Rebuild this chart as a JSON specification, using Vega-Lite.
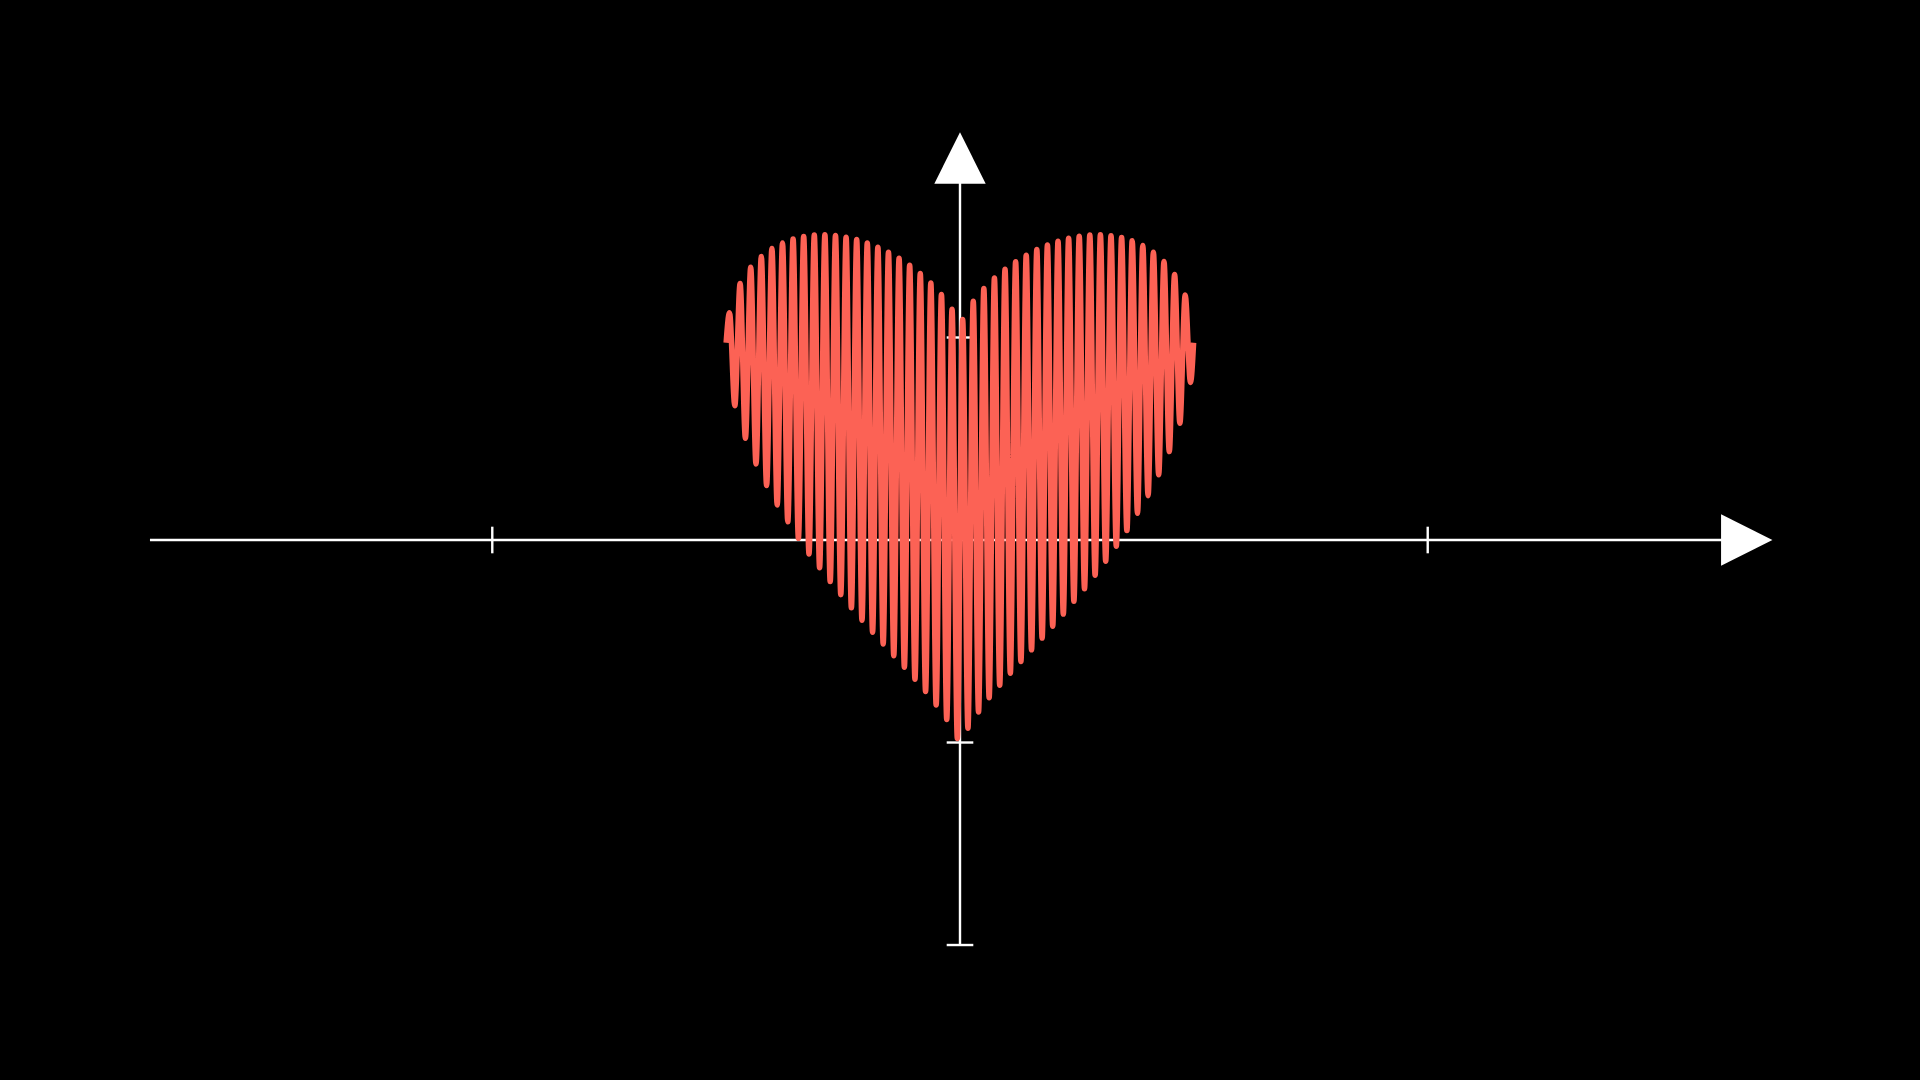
{
  "$schema": "https://vega.github.io/schema/vega-lite/v6.json",
  "width": 1920,
  "height": 1080,
  "autosize": {"type": "fit", "contains": "padding"},
  "padding": 0,
  "background": "#000000",
  "config": {"view": {"stroke": null}},
  "datasets": {
    "axes": [
      {"part": "x axis", "x": -6.2832, "x2": 5.95, "y": 0, "y2": 0},
      {"part": "y axis", "x": 0, "x2": 0, "y": -3.1416, "y2": 2.85},
      {"part": "x tick", "x": -3.628, "x2": -3.628, "y": -0.1032, "y2": 0.1032},
      {"part": "x tick", "x": 3.628, "x2": 3.628, "y": -0.1032, "y2": 0.1032},
      {"part": "y tick", "x": -0.1032, "x2": 0.1032, "y": 1.5708, "y2": 1.5708},
      {"part": "y tick", "x": -0.1032, "x2": 0.1032, "y": -1.5708, "y2": -1.5708},
      {"part": "y tick", "x": -0.1032, "x2": 0.1032, "y": -3.1416, "y2": -3.1416}
    ],
    "tips": [
      {"dir": "right", "x": 6.1026, "y": 0},
      {"dir": "up", "x": 0, "y": 2.963}
    ],
    "heart": [
      {"x": -1.8140, "y": 1.530},
      {"x": -1.7878, "y": 1.7629},
      {"x": -1.7467, "y": 1.042},
      {"x": -1.7056, "y": 1.9902},
      {"x": -1.6645, "y": 0.789},
      {"x": -1.6234, "y": 2.1150},
      {"x": -1.5823, "y": 0.590},
      {"x": -1.5412, "y": 2.1997},
      {"x": -1.5001, "y": 0.422},
      {"x": -1.4590, "y": 2.2604},
      {"x": -1.4179, "y": 0.272},
      {"x": -1.3768, "y": 2.3042},
      {"x": -1.3357, "y": 0.141},
      {"x": -1.2946, "y": 2.3348},
      {"x": -1.2535, "y": 0.013},
      {"x": -1.2124, "y": 2.3545},
      {"x": -1.1713, "y": -0.108},
      {"x": -1.1302, "y": 2.3650},
      {"x": -1.0891, "y": -0.215},
      {"x": -1.0480, "y": 2.3672},
      {"x": -1.0069, "y": -0.322},
      {"x": -0.9658, "y": 2.3618},
      {"x": -0.9247, "y": -0.424},
      {"x": -0.8836, "y": 2.3493},
      {"x": -0.8425, "y": -0.526},
      {"x": -0.8014, "y": 2.3300},
      {"x": -0.7603, "y": -0.622},
      {"x": -0.7192, "y": 2.3040},
      {"x": -0.6781, "y": -0.715},
      {"x": -0.6370, "y": 2.2715},
      {"x": -0.5959, "y": -0.806},
      {"x": -0.5548, "y": 2.2320},
      {"x": -0.5137, "y": -0.897},
      {"x": -0.4726, "y": 2.1854},
      {"x": -0.4315, "y": -0.987},
      {"x": -0.3904, "y": 2.1309},
      {"x": -0.3493, "y": -1.080},
      {"x": -0.3082, "y": 2.0675},
      {"x": -0.2671, "y": -1.175},
      {"x": -0.2261, "y": 1.9933},
      {"x": -0.1850, "y": -1.280},
      {"x": -0.1439, "y": 1.9043},
      {"x": -0.1028, "y": -1.392},
      {"x": -0.0617, "y": 1.7901},
      {"x": -0.0206, "y": -1.540},
      {"x": 0.0206, "y": 1.7098},
      {"x": 0.0617, "y": -1.460},
      {"x": 0.1028, "y": 1.8517},
      {"x": 0.1439, "y": -1.334},
      {"x": 0.1850, "y": 1.9510},
      {"x": 0.2261, "y": -1.223},
      {"x": 0.2671, "y": 2.0320},
      {"x": 0.3082, "y": -1.126},
      {"x": 0.3493, "y": 2.1004},
      {"x": 0.3904, "y": -1.033},
      {"x": 0.4315, "y": 2.1592},
      {"x": 0.4726, "y": -0.942},
      {"x": 0.5137, "y": 2.2096},
      {"x": 0.5548, "y": -0.852},
      {"x": 0.5959, "y": 2.2527},
      {"x": 0.6370, "y": -0.761},
      {"x": 0.6781, "y": 2.2886},
      {"x": 0.7192, "y": -0.669},
      {"x": 0.7603, "y": 2.3178},
      {"x": 0.8014, "y": -0.574},
      {"x": 0.8425, "y": 2.3406},
      {"x": 0.8836, "y": -0.475},
      {"x": 0.9247, "y": 2.3565},
      {"x": 0.9658, "y": -0.378},
      {"x": 1.0069, "y": 2.3654},
      {"x": 1.0480, "y": -0.273},
      {"x": 1.0891, "y": 2.3671},
      {"x": 1.1302, "y": -0.164},
      {"x": 1.1713, "y": 2.3609},
      {"x": 1.2124, "y": -0.048},
      {"x": 1.2535, "y": 2.3459},
      {"x": 1.2946, "y": 0.073},
      {"x": 1.3357, "y": 2.3210},
      {"x": 1.3768, "y": 0.207},
      {"x": 1.4179, "y": 2.2841},
      {"x": 1.4590, "y": 0.344},
      {"x": 1.5001, "y": 2.2325},
      {"x": 1.5412, "y": 0.506},
      {"x": 1.5823, "y": 2.1610},
      {"x": 1.6234, "y": 0.686},
      {"x": 1.6645, "y": 2.0594},
      {"x": 1.7056, "y": 0.906},
      {"x": 1.7467, "y": 1.8995},
      {"x": 1.7878, "y": 1.222},
      {"x": 1.8120, "y": 1.530}
    ]
  },
  "layer": [
    {
      "data": {"name": "axes"},
      "mark": {"type": "rule", "color": "#FFFFFF", "strokeWidth": 2.4},
      "encoding": {
        "x": {"field": "x", "type": "quantitative", "scale": {"domain": [-7.4465, 7.4465], "nice": false, "zero": false}, "axis": null},
        "x2": {"field": "x2"},
        "y": {"field": "y", "type": "quantitative", "scale": {"domain": [-4.1886, 4.1886], "nice": false, "zero": false}, "axis": null},
        "y2": {"field": "y2"}
      }
    },
    {
      "data": {"name": "tips"},
      "mark": {"type": "point", "filled": true, "color": "#FFFFFF", "opacity": 1, "size": 2640, "strokeWidth": 0},
      "encoding": {
        "x": {"field": "x", "type": "quantitative", "scale": {"domain": [-7.4465, 7.4465], "nice": false, "zero": false}, "axis": null},
        "y": {"field": "y", "type": "quantitative", "scale": {"domain": [-4.1886, 4.1886], "nice": false, "zero": false}, "axis": null},
        "shape": {
          "field": "dir",
          "type": "nominal",
          "scale": {"domain": ["right", "up"], "range": ["M-1,-1L1,0L-1,1Z", "M-1,1L0,-1L1,1Z"]},
          "legend": null
        }
      }
    },
    {
      "data": {"name": "heart"},
      "mark": {"type": "line", "interpolate": "monotone", "color": "#FC6255", "strokeWidth": 5.5, "strokeCap": "butt", "strokeJoin": "round"},
      "encoding": {
        "x": {"field": "x", "type": "quantitative", "scale": {"domain": [-7.4465, 7.4465], "nice": false, "zero": false}, "axis": null},
        "y": {"field": "y", "type": "quantitative", "scale": {"domain": [-4.1886, 4.1886], "nice": false, "zero": false}, "axis": null}
      }
    }
  ]
}
